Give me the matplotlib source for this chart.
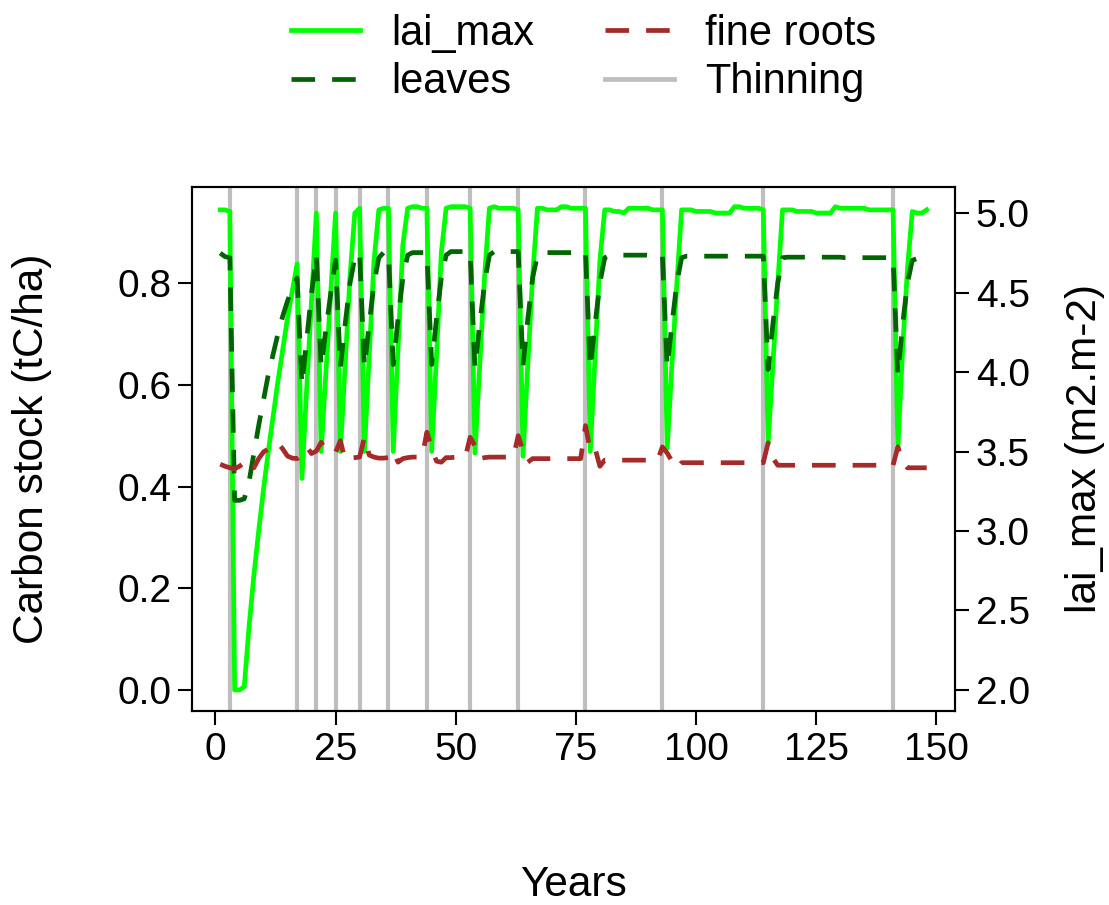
import numpy as np
import matplotlib
matplotlib.use('Agg')
from matplotlib import pyplot as plt
from matplotlib.lines import Line2D

plt.rcParams['font.family'] = ['Liberation Sans', 'DejaVu Sans']

years = np.arange(1, 149)

lai_max = [
    5.02, 5.02, 5.01, 2.00, 2.00, 2.02, 2.40, 2.72, 3.00, 3.26,
    3.50, 3.72, 3.94, 4.14, 4.34, 4.51, 4.68, 3.33, 3.90, 4.45,
    5.00, 3.50, 4.00, 4.50, 5.00, 3.50, 4.05, 4.60, 5.00, 5.03,
    3.50, 4.10, 4.70, 5.02, 5.03, 5.03, 3.50, 4.15, 4.80, 5.03,
    5.04, 5.04, 5.03, 5.03, 3.50, 4.10, 4.75, 5.03, 5.04, 5.04,
    5.04, 5.04, 5.03, 3.49, 4.05, 4.60, 5.03, 5.04, 5.03, 5.03,
    5.03, 5.03, 5.02, 3.47, 4.05, 4.60, 5.03, 5.03, 5.02, 5.02,
    5.02, 5.04, 5.04, 5.03, 5.03, 5.03, 5.03, 3.50, 4.10, 4.70,
    5.02, 5.02, 5.01, 5.01, 5.00, 5.03, 5.03, 5.03, 5.03, 5.03,
    5.02, 5.02, 5.02, 3.52, 4.05, 4.55, 5.02, 5.02, 5.02, 5.01,
    5.01, 5.01, 5.01, 5.00, 5.00, 5.00, 5.00, 5.04, 5.04, 5.03,
    5.03, 5.03, 5.03, 5.02, 3.55, 4.05, 4.55, 5.02, 5.02, 5.02,
    5.01, 5.01, 5.01, 5.01, 5.00, 5.00, 5.00, 5.00, 5.04, 5.03,
    5.03, 5.03, 5.03, 5.03, 5.03, 5.02, 5.02, 5.02, 5.02, 5.02,
    5.02, 3.52, 4.15, 4.65, 5.01, 5.00, 5.00, 5.02,
]

leaves = [
    0.859, 0.852, 0.850, 0.373, 0.373, 0.376, 0.410, 0.465, 0.520, 0.570,
    0.620, 0.660, 0.700, 0.735, 0.765, 0.790, 0.810, 0.600, 0.690, 0.780,
    0.855, 0.635, 0.710, 0.780, 0.845, 0.635, 0.720, 0.800, 0.850, 0.860,
    0.635, 0.720, 0.800, 0.850, 0.860, 0.860, 0.640, 0.730, 0.810, 0.855,
    0.860, 0.860, 0.860, 0.860, 0.640, 0.730, 0.810, 0.855, 0.862, 0.862,
    0.862, 0.862, 0.862, 0.633, 0.720, 0.800, 0.855, 0.862, 0.862, 0.862,
    0.862, 0.862, 0.862, 0.638, 0.730, 0.810, 0.855, 0.860, 0.860, 0.860,
    0.860, 0.860, 0.860, 0.860, 0.860, 0.860, 0.860, 0.633, 0.720, 0.800,
    0.850, 0.855, 0.855, 0.855, 0.855, 0.855, 0.855, 0.855, 0.855, 0.855,
    0.855, 0.855, 0.855, 0.635, 0.720, 0.800, 0.850, 0.853, 0.853, 0.853,
    0.853, 0.853, 0.853, 0.853, 0.853, 0.853, 0.853, 0.853, 0.853, 0.853,
    0.853, 0.853, 0.853, 0.853, 0.630, 0.720, 0.800, 0.850, 0.851, 0.851,
    0.851, 0.851, 0.851, 0.851, 0.851, 0.851, 0.851, 0.851, 0.851, 0.851,
    0.850, 0.850, 0.850, 0.850, 0.850, 0.850, 0.850, 0.850, 0.850, 0.850,
    0.850, 0.620, 0.720, 0.800, 0.845, 0.848, 0.848, 0.849,
]

fine_roots = [
    0.444, 0.440, 0.437, 0.435, 0.440, 0.447, 0.452, 0.437, 0.455, 0.468,
    0.474, 0.479, 0.486, 0.474, 0.460, 0.456, 0.455, 0.462, 0.478, 0.465,
    0.470, 0.487, 0.472, 0.465, 0.468, 0.490, 0.452, 0.456, 0.457, 0.458,
    0.497, 0.462, 0.458, 0.456, 0.456, 0.457, 0.470, 0.448, 0.455, 0.457,
    0.458, 0.458, 0.458, 0.507, 0.475, 0.450, 0.448, 0.457, 0.457, 0.458,
    0.458, 0.458, 0.497, 0.480, 0.455, 0.457, 0.458, 0.458, 0.458, 0.458,
    0.458, 0.458, 0.500, 0.470, 0.448, 0.455, 0.455, 0.455, 0.455, 0.455,
    0.455, 0.455, 0.455, 0.455, 0.455, 0.455, 0.520, 0.470, 0.475, 0.440,
    0.452, 0.452, 0.452, 0.452, 0.452, 0.452, 0.452, 0.452, 0.452, 0.452,
    0.452, 0.452, 0.478, 0.466, 0.450, 0.436, 0.447, 0.447, 0.447, 0.447,
    0.447, 0.447, 0.447, 0.447, 0.447, 0.447, 0.447, 0.447, 0.447, 0.447,
    0.447, 0.447, 0.447, 0.447, 0.486, 0.456, 0.442, 0.442, 0.442, 0.442,
    0.442, 0.442, 0.442, 0.442, 0.442, 0.442, 0.442, 0.442, 0.442, 0.442,
    0.442, 0.442, 0.442, 0.442, 0.442, 0.442, 0.442, 0.442, 0.442, 0.442,
    0.442, 0.478, 0.448, 0.437, 0.437, 0.437, 0.437, 0.437,
]

thinning_years = [3, 17, 21, 25, 30, 36, 44, 53, 63, 77, 93, 114, 141]

col_lai = '#00ff00'
col_leaves = '#006400'
col_roots = '#a52a2a'
col_thin = '#bebebe'
lw = 3.4
dash = (5.0, 3.6)
fs = 28
fs_lab = 30.5

fig = plt.figure(figsize=(11.09, 9.05), dpi=100)
ax = fig.add_axes([0.1731, 0.2144, 0.688, 0.5790])

# lai on the bottom axes (right scale), stocks drawn on top (left scale)
for t in thinning_years:
    ax.axvline(t, color=col_thin, lw=3.0, zorder=1)
ax.plot(years, lai_max, color=col_lai, lw=lw, zorder=2)
ax.set_ylim(1.868, 5.164)
ax.set_xlim(-4.88, 153.88)

ax2 = ax.twinx()
ax2.plot(years, leaves, color=col_leaves, lw=lw, dashes=dash)
ax2.plot(years, fine_roots, color=col_roots, lw=lw, dashes=dash)
ax2.set_ylim(-0.041, 0.989)

# swap sides: twinx puts the first axis on the left
ax.yaxis.tick_right()
ax.yaxis.set_label_position('right')
ax2.yaxis.tick_left()
ax2.yaxis.set_label_position('left')

ax.set_yticks([2.0, 2.5, 3.0, 3.5, 4.0, 4.5, 5.0])
ax.set_yticklabels(['2.0', '2.5', '3.0', '3.5', '4.0', '4.5', '5.0'])
ax.set_ylabel('lai_max (m2.m-2)', fontsize=fs_lab, labelpad=25)

ax2.set_yticks([0.0, 0.2, 0.4, 0.6, 0.8])
ax2.set_yticklabels(['0.0', '0.2', '0.4', '0.6', '0.8'])
ax2.set_ylabel('Carbon stock (tC/ha)', fontsize=fs_lab, labelpad=47)

ax.set_xticks([0, 25, 50, 75, 100, 125, 150])
ax.set_xlabel('Years', fontsize=fs_lab, labelpad=70)

for a in (ax, ax2):
    a.tick_params(labelsize=fs, length=10, width=1.5, pad=5)
    for s in a.spines.values():
        s.set_linewidth(1.5)

handles = [
    Line2D([], [], color=col_lai, lw=lw),
    Line2D([], [], color=col_leaves, lw=lw, dashes=dash),
    Line2D([], [], color=col_roots, lw=lw, dashes=dash),
    Line2D([], [], color=col_thin, lw=lw),
]
labels = ['lai_max', 'leaves', 'fine roots', 'Thinning']
fig.legend(handles, labels, loc='upper center', bbox_to_anchor=(0.526, 1.026),
           ncol=2, frameon=False, fontsize=30, handlelength=1.65,
           handletextpad=0.75, columnspacing=1.7, labelspacing=0.2)

fig.savefig('out.png', dpi=100)
